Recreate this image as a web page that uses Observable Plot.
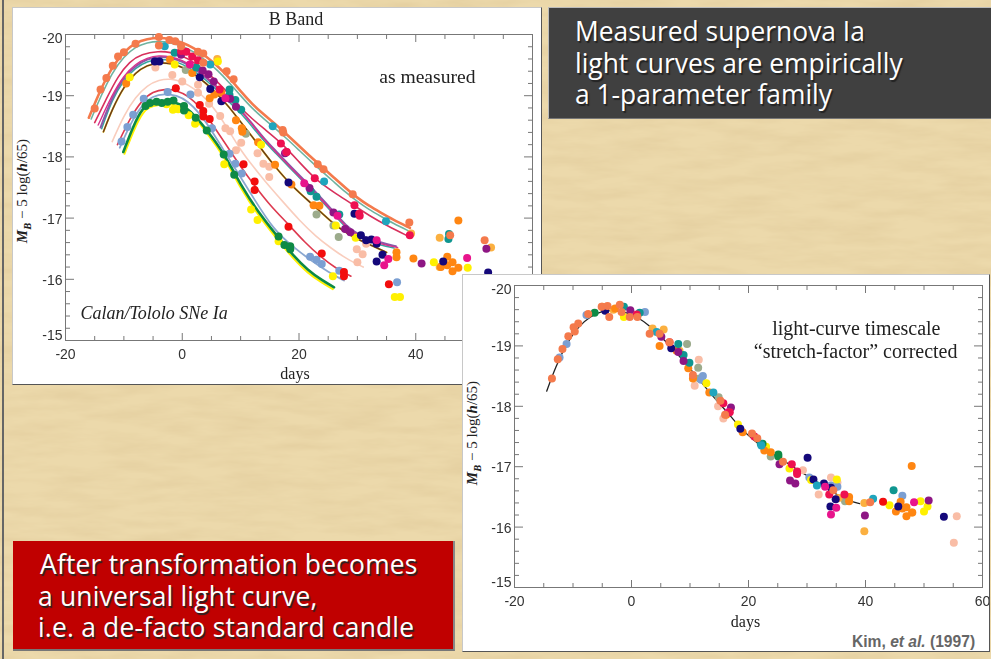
<!DOCTYPE html>
<html><head><meta charset="utf-8">
<script src="https://cdn.jsdelivr.net/npm/d3@7"></script>
<script src="https://cdn.jsdelivr.net/npm/@observablehq/plot@0.6"></script>
<style>
html,body{margin:0;padding:0;width:991px;height:659px;overflow:hidden}
body{position:relative;background:#e8d3a2;font-family:"Liberation Sans",sans-serif}
#tex{position:absolute;inset:0}
.panel{position:absolute;background:#fff;border:1px solid;border-color:#c8c8c8 #555 #555 #c8c8c8;box-sizing:border-box;overflow:hidden}
.panel svg{position:absolute;left:0;top:0;filter:blur(.45px);overflow:visible}
.yl{position:absolute;font:15px "Liberation Serif",serif;white-space:nowrap;transform:translate(-50%,-50%) rotate(-90deg);color:#222}
.yl sub{font-size:10.5px;line-height:0}
.box{position:absolute;box-sizing:border-box;color:#fff;font:500 26.4px/31.5px "Open Sans",sans-serif;text-shadow:1.5px 1.5px 1px #222;white-space:pre}
#kim{position:absolute;left:389px;top:358px;color:#666;font:bold 15.6px "Liberation Sans",sans-serif;white-space:pre}
</style></head><body>
<svg id="tex" width="991" height="659"><filter id="f"><feTurbulence type="fractalNoise" baseFrequency="0.018 0.09" numOctaves="4" seed="7"/><feColorMatrix values="0 0 0 0 .72  0 0 0 0 .56  0 0 0 0 .3  .8 0 0 0 -.27"/></filter><rect width="991" height="659" fill="#ecd9ab"/><rect width="991" height="659" filter="url(#f)"/><rect x="2" width="2" height="659" fill="#666"/></svg>
<div id="pL" class="panel" style="left:12px;top:7px;width:530px;height:378px"></div>
<div class="box" style="left:548px;top:7px;width:443px;height:112px;background:#404040;border-top:1px solid #bbb;border-left:1px solid #bbb;border-bottom:1px solid #777;padding:8px 0 0 26px">Measured supernova Ia
light curves are empirically
a 1-parameter family</div>
<div id="pR" class="panel" style="left:462px;top:274px;width:528px;height:378px"></div>
<div class="box" style="left:13px;top:541px;width:442px;height:110px;background:#c00000;border-bottom:2px solid #777;border-right:2px solid #888;padding:8px 0 0 25px;letter-spacing:.2px"><span style="margin-left:2px">After transformation becomes</span>
a universal light curve,
i.e. a de-facto standard candle</div>
<script>
/* ---- left panel: template curves [day, magnitude] ---- */
const curveOrange=[[-16,-18.64],[-14,-19.1],[-12,-19.47],[-10,-19.72],[-8,-19.87],[-6,-19.93],[-4,-19.95],[-2,-19.93],[0,-19.87],[2,-19.78],[4,-19.65],[6,-19.49],[8,-19.3],[10,-19.07],[12,-18.86],[14,-18.69],[16,-18.53],[18,-18.36],[20,-18.18],[22,-18],[24,-17.83],[26,-17.66],[28,-17.49],[30,-17.33],[32,-17.2],[34,-17.09],[36,-16.98],[39,-16.84]];
const curveTeal=[[-15.6,-18.62],[-14,-18.98],[-12,-19.38],[-10,-19.64],[-8,-19.8],[-6,-19.87],[-4,-19.89],[-2,-19.87],[0,-19.81],[2,-19.72],[4,-19.58],[6,-19.42],[8,-19.22],[10,-19],[12,-18.79],[14,-18.62],[16,-18.46],[18,-18.29],[20,-18.11],[22,-17.93],[24,-17.76],[26,-17.59],[28,-17.42],[30,-17.27],[32,-17.14],[34,-17.03],[36,-16.92],[39,-16.78]];
const curveCrimson=[[-15,-18.56],[-13,-18.95],[-11,-19.32],[-9,-19.56],[-7,-19.68],[-4,-19.73],[-2,-19.71],[0,-19.65],[2,-19.55],[4,-19.4],[6,-19.23],[8,-19.03],[10,-18.8],[12,-18.62],[14,-18.46],[17,-18.23],[20,-17.92],[22.7,-17.64],[26,-17.42],[29.4,-17.21],[32,-17.04],[35,-16.88],[39,-16.69]];
const curveMagenta=[[-14.4,-18.52],[-12,-19.02],[-10,-19.33],[-8,-19.52],[-6,-19.62],[-4,-19.66],[-2,-19.64],[0,-19.58],[2,-19.47],[4,-19.32],[6,-19.15],[8,-18.96],[10,-18.76],[12,-18.53],[14,-18.29],[16,-18.08],[18,-17.88],[20.9,-17.6],[23,-17.38],[26,-17.08],[28,-16.86],[30,-16.72],[32,-16.64],[34,-16.58],[36.9,-16.52]];
const curvePurple=[[-14,-18.48],[-12,-18.98],[-10,-19.3],[-8,-19.49],[-6,-19.6],[-4,-19.64],[-2,-19.62],[0,-19.56],[2,-19.45],[4,-19.3],[6,-19.13],[8,-18.94],[10,-18.77],[12,-18.54],[14,-18.3],[16,-18.1],[18,-17.9],[20.9,-17.62],[23,-17.41],[26,-17.1],[28,-16.88],[30,-16.74],[32,-16.66],[34,-16.6],[36.6,-16.54]];
const curveTeal2=[[-13.8,-18.46],[-12,-18.94],[-10,-19.26],[-8,-19.46],[-6,-19.56],[-4,-19.6],[-2,-19.58],[0,-19.52],[2,-19.41],[4,-19.26],[6,-19.09],[8,-18.9],[10,-18.72],[12,-18.49],[14,-18.26],[16,-18.06],[18,-17.86],[20.9,-17.58],[23,-17.37],[26,-17.06],[28,-16.84],[30,-16.7],[32,-16.62],[34,-16.56],[36.3,-16.51]];
const curveBrown=[[-13.5,-18.41],[-12,-18.78],[-10,-19.15],[-8,-19.38],[-6,-19.5],[-4,-19.54],[-2,-19.53],[0,-19.47],[2,-19.36],[4,-19.21],[6,-19.03],[8,-18.82],[10,-18.57],[12,-18.33],[14,-18.07],[15.9,-17.84],[18.8,-17.52],[22.5,-17.21],[25.9,-16.9],[29,-16.7],[32,-16.57],[35,-16.44]];
const curvePale=[[-12,-18.25],[-10,-18.68],[-8,-18.98],[-6,-19.17],[-4,-19.26],[-2,-19.28],[0,-19.23],[2,-19.12],[4,-18.96],[6,-18.73],[8,-18.43],[10,-18.11],[12,-17.86],[14,-17.62],[17.4,-17.25],[20,-16.97],[23,-16.69],[25.5,-16.51],[28,-16.34],[31,-16.2]];
const curveRed=[[-11.1,-18.2],[-9,-18.62],[-7,-18.92],[-5,-19.07],[-3,-19.11],[-1,-19.09],[1,-19],[3,-18.82],[5,-18.56],[7,-18.27],[10,-17.84],[12,-17.58],[15,-17.21],[18,-16.92],[21,-16.6],[23.8,-16.36],[26,-16.2],[28.9,-16.05]];
const curveBlue=[[-10.7,-18.15],[-9,-18.52],[-7,-18.84],[-5,-19],[-3,-19.03],[-1,-19.01],[1,-18.91],[3,-18.71],[5,-18.44],[7,-18.12],[10,-17.67],[12,-17.36],[15.7,-16.8],[19,-16.53],[22,-16.31],[25,-16.12],[27.7,-15.98]];
const curveGreen=[[-10.1,-18.08],[-8.5,-18.48],[-6.8,-18.82],[-5,-18.88],[-3,-18.9],[-1,-18.89],[.5,-18.82],[2.3,-18.66],[4.2,-18.44],[7.1,-18.07],[10,-17.54],[13,-17.1],[16.4,-16.69],[19,-16.39],[21.5,-16.15],[24,-15.98],[26,-15.87]];
const curveYellow=[[-9.9,-18.05],[-8.4,-18.42],[-6.7,-18.76],[-5,-18.84],[-3,-18.86],[-1,-18.85],[.5,-18.78],[2.3,-18.62],[4.2,-18.4],[7.1,-18.02],[10,-17.48],[13,-17.05],[16.4,-16.64],[19,-16.34],[21.5,-16.1],[24,-15.94],[25.8,-15.84]];
/* ---- left panel: measured points ---- */
const lCoral=[[-15,-18.79],[-14,-19.1],[-13,-19.29],[-11.9,-19.49],[-11,-19.64],[-10,-19.71],[-8,-19.85],[-4,-19.96],[-4,-19.82],[-2.2,-19.91],[-1.2,-19.89],[-.2,-19.81],[2.7,-19.72],[3.6,-19.69],[3.6,-19.54],[7.6,-19.4],[8.8,-19.27],[17.2,-18.44],[17.3,-18.4],[23.2,-17.88],[24.2,-17.8],[29.2,-17.39],[38.9,-16.93],[45.9,-16.72],[51.8,-16.64]];
const lCyan=[[-3,-19.81],[4.8,-19.51],[15.5,-18.5],[24.3,-17.6],[34.9,-16.95]];
const lCrimson=[[-.2,-19.73],[.7,-19.72],[1.7,-19.64],[2.7,-19.58],[6.4,-19.1],[16.9,-18.22],[17.9,-18.08],[22.7,-17.65],[29.5,-17.21],[30.3,-17.07],[30.4,-17.04],[38.98,-16.72]];
const lMagenta=[[1.3,-19.51],[7.4,-18.96],[17.8,-18.08],[20.9,-17.57],[26.6,-17.04],[33.3,-16.64],[35.3,-16.33],[34.6,-16.23],[48.8,-16.35]];
const lPurple=[[3.5,-19.41],[4.5,-19.35],[5.4,-19.23],[8.2,-18.95],[9.2,-18.82],[-.2,-19.67],[17.6,-18.06],[21.8,-17.49],[25.9,-17.09],[27.9,-16.82],[28.8,-16.77],[41,-16.26],[52.1,-16.5]];
const lNavy=[[-4.7,-19.56],[-3.9,-19.56],[3,-19.3],[4.8,-19.11],[6.7,-18.91],[18.2,-17.58],[29.5,-17.07],[30.6,-16.72],[31.5,-16.64],[32.4,-16.65],[33.3,-16.58],[34.3,-16.4],[33.3,-16.29],[44.7,-16.29],[52.4,-16.11]];
const lTeal=[[-1.3,-19.7],[2.4,-19.46],[8.1,-19.1],[8.1,-19.01],[9.1,-18.93],[10.1,-18.77],[22,-17.44],[23,-17.35],[26.9,-17.06],[45.7,-16.74],[45.6,-16.66]];
const lGreen=[[-6.3,-18.83],[-5.5,-18.88],[-4.4,-18.9],[-3.5,-18.88],[-2.5,-18.9],[-1.5,-18.92],[.3,-18.83],[.3,-18.76],[2.3,-18.64],[4.2,-18.43],[7.1,-18.04],[8.9,-17.71],[16.5,-16.7],[17.5,-16.56],[18.5,-16.54],[18.5,-16.49]];
const lRed=[[-1.1,-19.12],[3,-18.85],[3.6,-18.75],[3.6,-18.66],[4.7,-18.62],[10.5,-17.88],[12.4,-17.6],[12.4,-17.46],[18.2,-16.86],[23.9,-16.42],[27.7,-16.12],[27.7,-16.05],[35.4,-15.92]];
const lBlue=[[-10.4,-18.25],[-9.4,-18.49],[-8.4,-18.69],[-6.6,-18.95],[-2.5,-19.06],[1.4,-19.02],[5.1,-18.47],[8.1,-18.05],[9.1,-17.89],[10.2,-17.73],[21.9,-16.37],[23,-16.32],[23.9,-16.25],[26.9,-16.14],[36.8,-15.95]];
const lYellow=[[-9,-19.3],[-1.3,-19.51],[-1.6,-18.77],[-.7,-18.78],[-2.7,-18.86],[1.1,-18.68],[2.2,-18.54],[7.2,-17.88],[6.1,-19.56],[11.8,-17.14],[12.9,-16.97],[13.5,-18.2],[16.5,-16.62],[25.8,-16.05],[26.3,-16.88],[29.7,-16.68],[36.4,-15.71],[37.3,-15.71],[43.1,-16.28],[48.9,-16.19]];
const lOrange=[[-9.6,-19.2],[-2.1,-19.59],[1.7,-19.37],[4.7,-18.96],[5.5,-19.02],[6.7,-19.05],[9.2,-18.6],[10.2,-18.47],[10.3,-18.41],[13,-18.24],[15.9,-17.87],[18.7,-17.55],[22.5,-17.21],[23.5,-17.2],[36.7,-16.44],[36.7,-16.36],[39.6,-16.34],[45.4,-16.37],[44.3,-16.2],[45.4,-16.23],[46.3,-16.28],[46.3,-16.13],[47.3,-16.19],[47.3,-16.96]];
const lAmber=[[44.1,-16.68],[52.9,-16.52],[39.2,-16.75],[44.1,-16.2],[6,-19.6]];
const lSage=[[.6,-19.42],[10.9,-18.38],[23,-17.06],[26.8,-16.69],[25.9,-16.88]];
const lPeach=[[-4.6,-19.46],[-1.7,-19.34],[0,-19.23],[2.7,-19.18],[2.7,-19.05],[4.6,-18.87],[6.5,-18.67],[7.4,-18.47],[8.2,-18.42],[9.2,-18.11],[10.1,-18.23],[12.9,-18.06],[13.9,-17.89],[14.9,-17.84],[14.9,-17.67],[29.9,-16.49],[30.9,-16.41],[30,-16.28],[31.5,-16.58]];
/* ---- right panel: universal curve ---- */
const universal=[[-14.5,-18.25],[-13,-18.65],[-11,-19.06],[-9,-19.33],[-7,-19.49],[-5,-19.58],[-3,-19.59],[-1,-19.56],[1,-19.48],[3,-19.34],[5,-19.16],[7,-18.96],[9,-18.74],[11,-18.51],[13,-18.27],[15,-18.05],[17,-17.83],[19,-17.6],[21,-17.43],[23,-17.28],[25,-17.16],[27,-17.04],[29,-16.91],[31,-16.79],[33,-16.67],[35,-16.54],[37,-16.44],[39,-16.39]];
const rCoral=[[-13.6,-18.46],[-12.6,-18.78],[-11.8,-18.95],[-10.8,-19.16],[-9.9,-19.31],[-9.1,-19.37],[-9.7,-19.24],[-7.4,-19.53],[-5.1,-19.65],[-4.1,-19.66],[-3.8,-19.48],[-2,-19.68],[-1.7,-19.56],[-.3,-19.48],[1,-19.48],[3.1,-19.2],[4.8,-19.2],[6.5,-19.06],[10.5,-18.52],[15.2,-18.09],[16,-17.86],[20.6,-17.55],[21.5,-17.47],[25.9,-17.08],[34.5,-16.61],[40.8,-16.41]];
const rBlue=[[-12.3,-18.81],[-11.1,-19.03],[-7.7,-19.51],[2.3,-19.56],[11.9,-18.44],[12.2,-18.5],[30.4,-16.82],[46.3,-16.52],[35.2,-16.67],[34.1,-16.69]];
const rGreen=[[-6.3,-19.55],[22.4,-17.38],[25.1,-17.2],[25.1,-17.17]];
const rNavy=[[-4.5,-19.58],[6.8,-18.96],[18.6,-17.63],[30.1,-17.15],[31.1,-16.79],[32.9,-16.72],[34.1,-16.65],[34.9,-16.46],[34,-16.34],[45.6,-16.34],[53.4,-16.17]];
const rTeal=[[-1.3,-19.65],[1.4,-19.55],[8,-19.03],[8.9,-18.85],[9.9,-18.72],[22.1,-17.38],[44.8,-16.61]];
const rPurple=[[-.2,-19.59],[5.1,-19.15],[8,-18.9],[8.9,-18.75],[17,-17.98],[25.3,-17.04],[27.1,-16.77],[28,-16.72],[39.9,-16.19],[50.8,-16.44]];
const rOrange=[[-5,-19.65],[-2.8,-19.62],[4.8,-19],[7.7,-18.92],[9.7,-18.63],[10.5,-18.46],[13.3,-18.23],[16.2,-17.86],[19,-17.57],[23.8,-17.24],[22.7,-17.27],[47.9,-17.01],[37.2,-16.5],[37.2,-16.43],[45.2,-16.26],[46,-16.42],[46.3,-16.31],[47,-16.33],[47,-16.18],[48,-16.24]];
const rAmber=[[-3.1,-19.6],[3.6,-19.29],[5.5,-19.27],[8.2,-18.92],[39.8,-16.4],[35.4,-16.48],[39.8,-15.93],[47.9,-16.24]];
const rCrimson=[[.9,-19.52],[6.5,-19.06],[15.7,-18.05],[16.8,-17.9],[21,-17.5],[27.4,-17.04],[28.3,-16.92],[28.3,-16.88],[36.4,-16.54],[33.8,-16.54]];
const rRed=[[43,-16.42]];
const rYellow=[[-1.3,-19.48],[12.8,-18.38],[18.2,-17.7],[23,-17.33],[27,-16.97],[30.7,-16.78],[35.1,-16.79],[44.1,-16.36],[49.4,-16.43],[50.6,-16.34],[50,-16.26]];
const rSage=[[9.5,-19.03],[11.4,-18.64],[11.6,-18.46],[14.9,-18.15],[23.8,-17.17],[36.5,-16.43]];
const rPeach=[[11.5,-18.77],[10.8,-18.34],[14.8,-18],[15.7,-17.8],[34.1,-16.82],[35.2,-16.74],[29.3,-16.94],[32,-16.54],[55.6,-16.18],[55.1,-15.74]];
const rCyan=[[4.3,-19.23],[14,-18.23],[22.2,-17.35],[31.7,-16.69],[41.3,-16.47]];
const rMagenta=[[16.5,-17.9],[33.1,-16.67],[35,-16.32],[34.1,-16.21],[48.3,-16.41]];
/* ---- shared axes ---- */
const xMajor=[-20,0,20,40,60], xMinor=[-15,-10,-5,5,10,15,25,30,35,45,50,55];
const yMajor=[-20,-19,-18,-17,-16,-15];
const yMiddle=[-19,-18,-17,-16];
const yMinor=[-19.8,-19.6,-19.4,-19.2,-18.8,-18.6,-18.4,-18.2,-17.8,-17.6,-17.4,-17.2,-16.8,-16.6,-16.4,-16.2,-15.8,-15.6,-15.4,-15.2];

const C={coral:"#f47a4c",cyan:"#1fa5bd",crimson:"#ee1050",magenta:"#e8148c",purple:"#8e1684",navy:"#14087a",teal:"#0f9690",green:"#0e8a45",red:"#f20d0d",blue:"#7b9fd2",yellow:"#fff000",orange:"#ff8612",amber:"#fbb040",sage:"#9cab8c",peach:"#f9bda6"};
const xy={x:d=>d[0],y:d=>d[1]};
const dots=(a,c)=>Plot.dot(a,{...xy,r:4,fill:c,stroke:"none"});
const line=(a,c,w)=>Plot.line(a,{...xy,stroke:c,strokeWidth:w,curve:"basis"});
function frame(){
  const g="#777", hide={tickFormat:null,label:null,fill:"none",stroke:g};
  const yText={anchor:"left",tickSize:0,tickPadding:3,label:null,tickFormat:d=>String(d),fontSize:14,fill:"#333"};
  return [
    Plot.frame({stroke:g,strokeWidth:1}),
    Plot.axisX({anchor:"bottom",ticks:xMajor,tickSize:-7,...hide}),
    Plot.axisX({anchor:"bottom",ticks:xMinor,tickSize:-4,...hide}),
    Plot.axisX({anchor:"top",ticks:xMajor,tickSize:-7,...hide}),
    Plot.axisX({anchor:"top",ticks:xMinor,tickSize:-4,...hide}),
    Plot.axisY({anchor:"left",ticks:yMajor,tickSize:-9,...hide}),
    Plot.axisY({anchor:"left",ticks:yMinor,tickSize:-5,...hide}),
    Plot.axisY({anchor:"right",ticks:yMajor,tickSize:-9,...hide}),
    Plot.axisY({anchor:"right",ticks:yMinor,tickSize:-5,...hide}),
    Plot.axisX({anchor:"bottom",ticks:xMajor,tickSize:0,tickPadding:9,label:null,tickFormat:d=>String(d),fontSize:14,fill:"#333"}),
    Plot.axisY({...yText,ticks:yMiddle,dy:1}),
    Plot.axisY({...yText,ticks:[-20],dy:4}),
    Plot.axisY({...yText,ticks:[-15],dy:-5})
  ];
}
const note=(t,o)=>Plot.text([t],{text:d=>d,fontFamily:"Liberation Serif",fill:"#222",...o});

const left=Plot.plot({width:528,height:376,marginLeft:52,marginRight:9,marginTop:26,marginBottom:44,
  style:{background:"transparent",fontFamily:"Liberation Sans"},
  x:{domain:[-20,60],axis:null},y:{domain:[-15,-20],axis:null},
  marks:[
    frame(),
    line(curvePale,"#f9cdbd",1.6),line(curveYellow,C.yellow,2),line(curveGreen,"#0c8a45",2.6),line(curveBlue,"#8aa7d0",1.8),line(curveRed,"#dd3a50",1.6),
    line(curveBrown,"#ffe23a",2),line(curveBrown,"#6b3a1c",1.5),line(curveTeal2,"#35a8a0",1.5),line(curvePurple,"#8a58a8",2),line(curveMagenta,"#d8328c",1.4),
    line(curveCrimson,"#d8305c",1.6),line(curveTeal,"#6fb3a0",1.6),line(curveOrange,C.coral,2.6),
    dots(lPeach,C.peach),dots(lSage,C.sage),dots(lAmber,C.amber),dots(lOrange,C.orange),dots(lYellow,C.yellow),dots(lBlue,C.blue),dots(lRed,C.red),dots(lGreen,C.green),dots(lNavy,C.navy),dots(lTeal,C.teal),dots(lPurple,C.purple),dots(lMagenta,C.magenta),dots(lCrimson,C.crimson),dots(lCyan,C.cyan),dots(lCoral,C.coral),
    note("B Band",{frameAnchor:"top",dx:-3,dy:-22,fontSize:18,textAnchor:"middle",lineAnchor:"top"}),
    note("as measured",{frameAnchor:"top-right",dx:-57,dy:35,fontSize:19.6,lineAnchor:"top"}),
    note("Calan/Tololo SNe Ia",{frameAnchor:"bottom-left",dx:15,dy:-22,fontSize:18,fontStyle:"italic",textAnchor:"start"}),
    note("days",{frameAnchor:"bottom",dx:-4,dy:38,fontSize:16})
  ]});
document.getElementById("pL").append(left);

const right=Plot.plot({width:526,height:376,marginLeft:51,marginRight:7,marginTop:10,marginBottom:64,
  style:{background:"transparent",fontFamily:"Liberation Sans"},
  x:{domain:[-20,60],axis:null},y:{domain:[-15,-20],axis:null},
  marks:[
    frame(),
    line(universal,"#222",1.3),
    dots(rPeach,C.peach),dots(rSage,C.sage),dots(rAmber,C.amber),dots(rBlue,C.blue),dots(rYellow,C.yellow),dots(rGreen,C.green),dots(rOrange,C.orange),dots(rNavy,C.navy),dots(rTeal,C.teal),dots(rPurple,C.purple),dots(rMagenta,C.magenta),dots(rRed,C.red),dots(rCrimson,C.crimson),dots(rCyan,C.cyan),dots(rCoral,C.coral),
    note("light-curve timescale",{frameAnchor:"top-right",dx:-42,dy:35,fontSize:20,lineAnchor:"top"}),
    note("“stretch-factor” corrected",{frameAnchor:"top-right",dx:-25,dy:58,fontSize:20,lineAnchor:"top"}),
    note("days",{frameAnchor:"bottom",dx:-3,dy:39,fontSize:16})
  ]});
document.getElementById("pR").append(right);

const yLabel='<span style="font-weight:bold;font-style:italic">M<sub>B</sub></span> − 5 log(<b><i>h</i></b>/65)';
for(const [id,x,y] of [["pL",9,183],["pR",9,158]]){
  const d=document.createElement("div");d.className="yl";d.innerHTML=yLabel;
  d.style.left=x+"px";d.style.top=y+"px";document.getElementById(id).append(d);
}
const k=document.createElement("div");k.id="kim";k.innerHTML='Kim, <i>et al.</i> (1997)';document.getElementById("pR").append(k);
</script>
</body></html>
